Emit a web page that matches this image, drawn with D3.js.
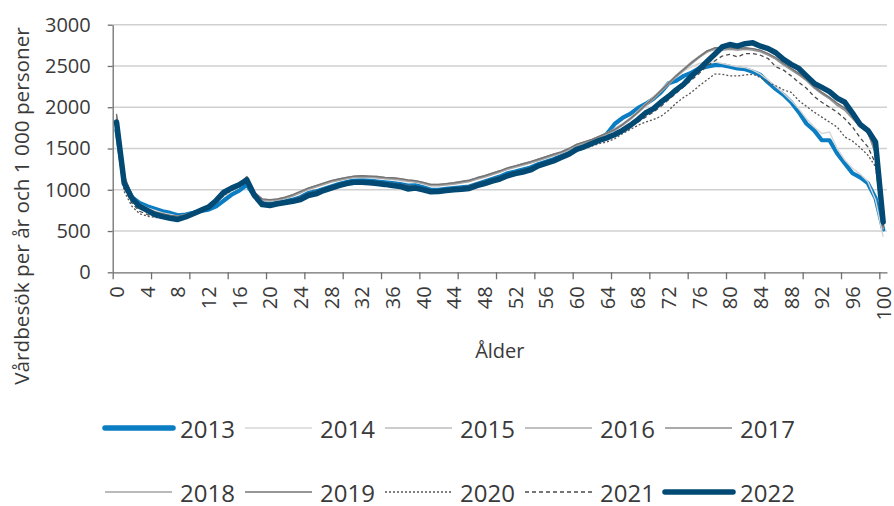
<!DOCTYPE html>
<html>
<head>
<meta charset="utf-8">
<script src="https://cdn.jsdelivr.net/npm/d3@7"></script>
<style>
  html, body { margin: 0; padding: 0; background: #fff; }
  svg { display: block; font-family: "Open Sans", "Noto Sans", sans-serif; }
</style>
</head>
<body>
<svg id="chart" width="894" height="506"></svg>
<script>
// ---------- DATA ----------
const ages = d3.range(0, 101);
const yTickValues = [0, 500, 1000, 1500, 2000, 2500, 3000];
const xLabelValues = [0,4,8,12,16,20,24,28,32,36,40,44,48,52,56,60,64,68,72,76,80,84,88,92,96,100];
const years = ["2013","2014","2015","2016","2017","2018","2019","2020","2021","2022"];

const v2013 = [1720,1100,910,840,800,770,740,720,690,700,720,745,760,800,870,940,990,1060,920,850,840,
  850,865,880,910,960,980,1010,1040,1070,1095,1110,1115,1110,1100,1090,1080,1070,1050,1055,1030,
  1000,1000,1010,1020,1030,1040,1070,1100,1130,1160,1200,1220,1245,1270,1310,1340,1370,1410,1450,1500,
  1530,1570,1610,1680,1800,1870,1920,1990,2040,2100,2180,2290,2320,2380,2420,2470,2490,2510,2510,2490,
  2470,2460,2430,2390,2300,2220,2150,2060,1940,1800,1720,1600,1600,1440,1320,1200,1150,1080,900,520];
const v2014 = [1800,1130,930,830,780,750,720,700,680,700,730,760,790,840,920,980,1030,1110,950,870,860,
  870,890,920,960,1000,1030,1060,1090,1110,1130,1145,1150,1145,1140,1130,1120,1110,1095,1090,1070,
  1045,1045,1055,1065,1080,1095,1125,1150,1180,1210,1245,1270,1295,1320,1350,1380,1410,1440,1480,1525,
  1560,1590,1630,1670,1740,1800,1870,1950,2040,2120,2210,2300,2380,2440,2490,2530,2550,2550,2530,2510,
  2490,2480,2450,2400,2330,2250,2170,2080,1980,1860,1760,1680,1700,1500,1360,1260,1190,1100,880,430];
const v2015 = [1850,1140,920,810,760,720,700,685,670,690,720,760,800,860,940,1000,1050,1140,960,880,870,
  885,905,935,975,1015,1045,1075,1105,1125,1145,1160,1165,1160,1155,1145,1140,1130,1115,1105,1085,
  1060,1060,1070,1080,1095,1110,1140,1165,1195,1225,1260,1285,1310,1335,1365,1395,1425,1455,1495,1545,
  1575,1605,1645,1685,1740,1800,1870,1950,2040,2120,2210,2300,2390,2470,2550,2620,2680,2700,2690,2700,
  2690,2700,2690,2670,2630,2580,2510,2450,2390,2320,2230,2160,2100,2020,1960,1860,1760,1690,1440,520];
const v2016 = [1900,1160,930,815,765,725,705,690,675,695,725,765,805,865,945,1005,1055,1155,965,885,875,
  890,910,940,980,1020,1050,1080,1110,1130,1150,1165,1170,1165,1160,1150,1145,1135,1120,1110,1090,
  1065,1065,1075,1085,1100,1115,1145,1170,1200,1230,1265,1290,1315,1340,1370,1400,1430,1460,1500,1550,
  1580,1610,1650,1690,1735,1795,1865,1945,2035,2115,2205,2295,2385,2465,2545,2615,2685,2710,2700,2710,
  2700,2710,2700,2680,2640,2590,2520,2460,2400,2330,2240,2170,2110,2030,1970,1870,1770,1700,1450,530];
const v2017 = [1880,1150,925,810,760,720,700,680,670,690,720,760,800,860,940,1000,1050,1150,960,880,870,
  880,900,930,970,1010,1040,1070,1100,1120,1140,1155,1160,1155,1150,1140,1135,1125,1110,1100,1080,
  1055,1055,1065,1075,1090,1105,1135,1160,1190,1220,1255,1280,1305,1330,1360,1390,1420,1450,1490,1540,
  1570,1600,1640,1680,1725,1785,1855,1935,2025,2105,2195,2285,2375,2455,2535,2605,2675,2705,2695,2705,
  2695,2705,2695,2675,2635,2585,2515,2455,2395,2325,2235,2165,2105,2025,1965,1865,1765,1695,1440,520];
const v2018 = [1870,1140,915,805,755,715,695,675,665,685,715,755,795,855,935,995,1045,1145,955,875,865,
  875,895,925,965,1005,1035,1065,1095,1115,1135,1150,1155,1150,1145,1135,1130,1120,1105,1095,1075,
  1050,1050,1060,1070,1085,1100,1130,1155,1185,1215,1250,1275,1300,1325,1355,1385,1415,1445,1485,1535,
  1565,1595,1635,1675,1720,1780,1850,1930,2015,2095,2185,2275,2365,2445,2525,2600,2665,2700,2700,2710,
  2705,2715,2705,2685,2645,2595,2525,2465,2410,2340,2250,2180,2120,2040,1980,1880,1780,1710,1460,530];
const v2019 = [1920,1170,935,820,770,730,710,690,680,700,730,770,810,870,950,1010,1060,1160,970,890,880,
  890,910,940,980,1020,1050,1080,1110,1130,1150,1165,1170,1165,1160,1150,1145,1135,1120,1110,1090,
  1065,1065,1075,1085,1100,1115,1145,1170,1200,1230,1265,1290,1315,1340,1370,1400,1430,1460,1500,1550,
  1580,1610,1650,1690,1730,1790,1860,1940,2030,2110,2200,2290,2380,2460,2540,2610,2680,2720,2720,2720,
  2710,2720,2710,2690,2650,2600,2530,2470,2410,2340,2250,2180,2120,2050,1990,1890,1790,1720,1470,540];
const v2020 = [1750,980,800,710,680,665,655,645,640,680,715,755,790,850,930,990,1030,1100,920,850,840,
  850,865,885,920,960,990,1020,1050,1075,1095,1110,1115,1110,1100,1090,1080,1070,1055,1045,1025,
  1005,1005,1015,1025,1035,1050,1080,1105,1135,1160,1195,1220,1245,1270,1300,1330,1360,1395,1430,1470,
  1500,1530,1560,1580,1620,1680,1730,1780,1820,1850,1890,1960,2050,2120,2180,2260,2330,2400,2400,2380,
  2380,2390,2400,2360,2300,2260,2210,2180,2080,2010,1940,1880,1820,1760,1640,1590,1510,1420,1280,560];
const v2021 = [1780,1020,840,740,700,680,665,655,650,685,720,760,800,860,950,1010,1050,1120,940,850,830,
  845,860,880,905,950,975,1010,1040,1065,1090,1105,1110,1105,1095,1085,1075,1065,1045,1040,1020,
  995,1000,1010,1020,1030,1045,1075,1100,1130,1155,1190,1215,1240,1265,1300,1335,1365,1400,1440,1480,
  1510,1545,1580,1610,1650,1710,1760,1820,1880,1940,2010,2090,2170,2250,2330,2410,2500,2560,2620,2640,
  2610,2650,2650,2630,2590,2490,2450,2380,2300,2230,2130,2060,2000,1940,1860,1760,1630,1520,1320,560];
const v2022 = [1820,1080,900,800,750,700,675,655,640,670,710,750,790,870,970,1020,1060,1120,930,820,810,
  830,845,860,880,930,950,990,1020,1050,1075,1090,1090,1085,1075,1065,1050,1040,1010,1020,1000,
  975,980,990,1000,1005,1015,1050,1075,1105,1130,1170,1195,1215,1240,1290,1320,1350,1390,1430,1490,
  1520,1560,1600,1630,1670,1720,1780,1850,1930,1980,2060,2130,2210,2280,2380,2460,2550,2640,2730,2760,
  2740,2770,2780,2740,2710,2660,2580,2520,2470,2380,2290,2240,2190,2110,2060,1930,1790,1720,1580,610];

const seriesValues = [v2013, v2014, v2015, v2016, v2017, v2018, v2019, v2020, v2021, v2022];

// ---------- STYLE ----------
const styles = {
  "2013": { color: "#0b7dc2", width: 4.2, dash: null },
  "2014": { color: "#d6d6d6", width: 1.4, dash: null },
  "2015": { color: "#bdbdbd", width: 1.4, dash: null },
  "2016": { color: "#ababab", width: 1.4, dash: null },
  "2017": { color: "#8e8e8e", width: 1.4, dash: null },
  "2018": { color: "#a3a3a3", width: 1.4, dash: null },
  "2019": { color: "#747474", width: 1.4, dash: null },
  "2020": { color: "#555555", width: 1.3, dash: "2,2" },
  "2021": { color: "#4a4a4a", width: 1.3, dash: "4,3" },
  "2022": { color: "#024a74", width: 5.5, dash: null }
};

const svg = d3.select("#chart");
const plotL = 112.7, plotR = 887, plotT = 24.7, plotB = 272.3;
const x = d3.scaleLinear().domain([-0.5, 100.5]).range([plotL, plotR]);
const y = d3.scaleLinear().domain([0, 3000]).range([plotB, plotT]);
const textColor = "#3a3a3a";
const axisColor = "#6f6f6f";

// gridlines
svg.append("g").selectAll("line")
  .data(yTickValues.filter(v => v > 0))
  .join("line")
  .attr("x1", plotL).attr("x2", plotR)
  .attr("y1", d => y(d)).attr("y2", d => y(d))
  .attr("stroke", "#d0d0d0").attr("stroke-width", 1.4);

// y axis
const yAxis = svg.append("g").attr("transform", `translate(${plotL},0)`)
  .call(d3.axisLeft(y).tickValues(yTickValues).tickSize(5).tickSizeOuter(0).tickPadding(17)
        .tickFormat(d3.format("d")));
yAxis.select(".domain").attr("stroke", axisColor).attr("stroke-width", 1.3);
yAxis.selectAll(".tick line").attr("stroke", axisColor).attr("stroke-width", 1.3);
yAxis.selectAll("text").attr("fill", textColor).style("font-size", "20px")
  .style("font-family", "'Open Sans', sans-serif");

// x axis ticks (every 5 categories, at boundaries)
const tickBounds = d3.range(0, 21).map(k => k * 5 - 0.5);
const xAxis = svg.append("g").attr("transform", `translate(0,${plotB})`)
  .call(d3.axisBottom(x).tickValues(tickBounds).tickSize(7).tickSizeOuter(0).tickFormat(""));
xAxis.select(".domain").attr("stroke", axisColor).attr("stroke-width", 1.3);
xAxis.selectAll(".tick line").attr("stroke", axisColor).attr("stroke-width", 1.3);

// x labels (rotated)
const xLab = svg.append("g").attr("transform", `translate(0,${plotB})`)
  .call(d3.axisBottom(x).tickValues(xLabelValues).tickSize(0).tickSizeOuter(0).tickFormat(d3.format("d")));
xLab.select(".domain").remove();
xLab.selectAll("text")
  .attr("fill", textColor).style("font-size", "20px")
  .style("font-family", "'Open Sans', sans-serif")
  .attr("text-anchor", "end")
  .attr("dy", null)
  .attr("y", 0)
  .attr("transform", "translate(-0.5,14) rotate(-90)")
  .attr("dominant-baseline", "central");

// axis titles
svg.append("text")
  .attr("x", (plotL + plotR) / 2).attr("y", 350)
  .attr("text-anchor", "middle").attr("dominant-baseline", "central")
  .attr("fill", textColor).style("font-size", "20px")
  .text("Ålder");

svg.append("text")
  .attr("transform", "translate(21,206) rotate(-90)")
  .attr("text-anchor", "middle").attr("dominant-baseline", "central")
  .attr("fill", textColor).style("font-size", "20.7px")
  .text("Vårdbesök per år och 1 000 personer");

// lines
const line = d3.line()
  .x((d, i) => x(ages[i]))
  .y(d => y(d))
  .curve(d3.curveLinear);

svg.append("g").selectAll("path")
  .data(years.map((yr, i) => ({ yr, vals: seriesValues[i] })))
  .join("path")
  .attr("d", d => line(d.vals))
  .attr("fill", "none")
  .attr("stroke", d => styles[d.yr].color)
  .attr("stroke-width", d => styles[d.yr].width)
  .attr("stroke-dasharray", d => styles[d.yr].dash)
  .attr("stroke-linejoin", "round")
  .attr("stroke-linecap", d => styles[d.yr].width > 3 ? "round" : "butt");

// legend
const legend = svg.append("g");
const items = legend.selectAll("g")
  .data(years)
  .join("g")
  .attr("transform", (d, i) => `translate(${105 + (i % 5) * 140},${i < 5 ? 428 : 492})`);
items.append("line")
  .attr("x1", 0).attr("x2", d => styles[d].width > 3 ? 68 : 67)
  .attr("y1", 0).attr("y2", 0)
  .attr("stroke", d => styles[d].color)
  .attr("stroke-width", d => styles[d].width > 3 ? 5.5 : 1.5)
  .attr("stroke-dasharray", d => styles[d].dash)
  .attr("stroke-linecap", d => styles[d].width > 3 ? "round" : "butt");
items.append("text")
  .attr("x", 75).attr("y", 0)
  .attr("dominant-baseline", "central")
  .attr("fill", textColor).style("font-size", "24px")
  .text(d => d);
</script>
</body>
</html>
